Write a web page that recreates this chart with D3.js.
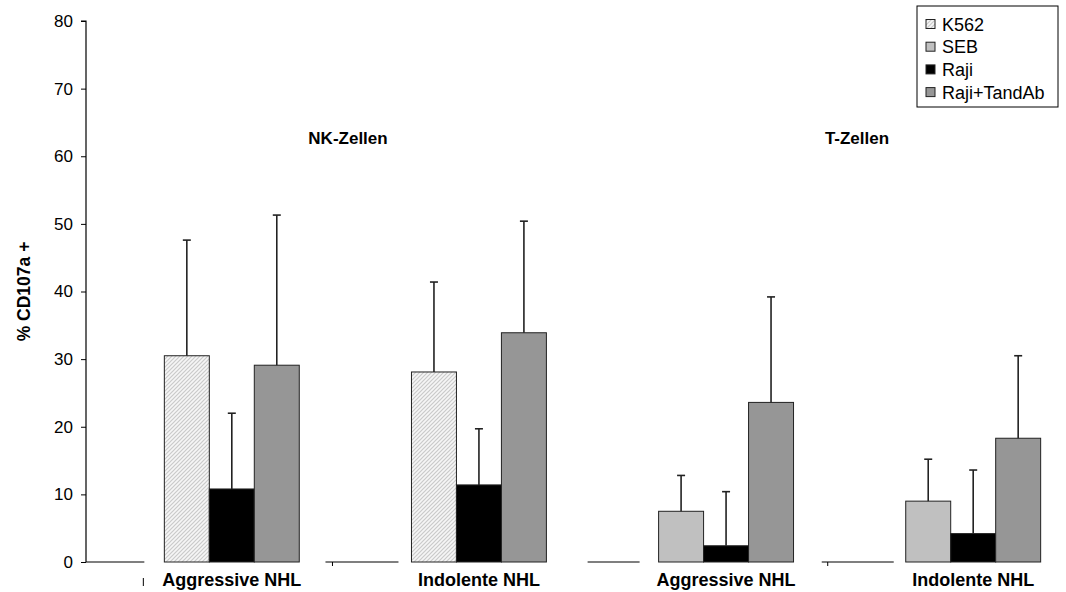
<!DOCTYPE html>
<html><head><meta charset="utf-8">
<script src="https://cdn.jsdelivr.net/npm/d3@7"></script>
<style>
html,body{margin:0;padding:0;background:#fff;}
svg{display:block;font-family:"Liberation Sans",Arial,sans-serif;}
</style></head>
<body><svg id="chart" width="1066" height="592"></svg>
<script>
// ---- data ----
const groups = ["NK-Aggressive", "NK-Indolente", "T-Aggressive", "T-Indolente"];
const groupLabels = ["Aggressive NHL", "Indolente NHL", "Aggressive NHL", "Indolente NHL"];
const panelTitles = ["NK-Zellen", "T-Zellen"];
const seriesNames = ["K562", "SEB", "Raji", "Raji+TandAb"];
// per-group first bar series (K562 for NK cells, SEB for T cells)
const firstSeries = ["K562", "K562", "SEB", "SEB"];
const stimValues = [30.5, 28.1, 7.5, 9.0];
const stimErrTop = [47.6, 41.4, 12.8, 15.2];
const rajiValues = [10.8, 11.4, 2.4, 4.2];
const rajiErrTop = [22.0, 19.7, 10.4, 13.6];
const tandValues = [29.1, 33.9, 23.6, 18.3];
const tandErrTop = [51.3, 50.4, 39.2, 30.5];
const yTicks = [0, 10, 20, 30, 40, 50, 60, 70, 80];
const yLabel = "% CD107a +";

// ---- layout ----
const svg = d3.select("#chart");
const y = d3.scaleLinear().domain([0, 80]).range([562, 21]);
const axisX = 86;
const xg = d3.scaleBand().domain(groups).range([86, 1119]).paddingInner(0.454).paddingOuter(0.317);
const slots = ["a", "b", "c"];
const xs = d3.scaleBand().domain(slots).range([0, xg.bandwidth()]);

const colors = {"K562": "url(#hatch)", "SEB": "#c0c0c0", "Raji": "#000000", "Raji+TandAb": "#969696"};

// hatch pattern
const defs = svg.append("defs");
const pat = defs.append("pattern").attr("id", "hatch").attr("patternUnits", "userSpaceOnUse")
  .attr("width", 4).attr("height", 4);
pat.append("rect").attr("width", 4).attr("height", 4).attr("fill", "#f6f6f6");
pat.append("path").attr("d", "M-1,1 l2,-2 M0,4 l4,-4 M3,5 l2,-2")
  .attr("stroke", "#cacaca").attr("stroke-width", 1.2);

// bars data
const bars = [];
groups.forEach((g, i) => {
  bars.push({g, slot: "a", s: firstSeries[i], v: stimValues[i], e: stimErrTop[i]});
  bars.push({g, slot: "b", s: "Raji", v: rajiValues[i], e: rajiErrTop[i]});
  bars.push({g, slot: "c", s: "Raji+TandAb", v: tandValues[i], e: tandErrTop[i]});
});

// baseline segments (visible pieces of the category axis between groups)
const segOffsets = [[-78, -20], [-86, -13], [-71, -19], [-84, -12]];
const baseG = svg.append("g");
groups.forEach((g, i) => {
  const x0 = xg(g);
  baseG.append("line")
    .attr("x1", i === 0 ? axisX : x0 + segOffsets[i][0]).attr("x2", x0 + segOffsets[i][1])
    .attr("y1", y(0)).attr("y2", y(0))
    .attr("stroke", "#000").attr("stroke-width", 1.2);
});
// small tick remnants
[[1, 7], [3, 6]].forEach(([i, dx]) => {
  const x0 = xg(groups[i]) + segOffsets[i][0] + dx;
  baseG.append("line").attr("x1", x0).attr("x2", x0).attr("y1", y(0)).attr("y2", y(0) + 4)
    .attr("stroke", "#000").attr("stroke-width", 1);
});
[xg(groups[0]) - 21].forEach(x0 => {
  baseG.append("line").attr("x1", x0).attr("x2", x0).attr("y1", 578).attr("y2", 586)
    .attr("stroke", "#000").attr("stroke-width", 1);
});

// bars
svg.append("g").selectAll("rect").data(bars).join("rect")
  .attr("x", d => xg(d.g) + xs(d.slot))
  .attr("y", d => y(d.v))
  .attr("width", xs.bandwidth())
  .attr("height", d => y(0) - y(d.v))
  .attr("fill", d => colors[d.s])
  .attr("stroke", "#222").attr("stroke-width", 1);

// error bars (upper only)
const eg = svg.append("g").attr("stroke", "#222").attr("stroke-width", 1.6);
bars.forEach(d => {
  const cx = xg(d.g) + xs(d.slot) + xs.bandwidth() / 2;
  eg.append("line").attr("x1", cx).attr("x2", cx).attr("y1", y(d.v)).attr("y2", y(d.e));
  eg.append("line").attr("x1", cx - 4).attr("x2", cx + 4).attr("y1", y(d.e)).attr("y2", y(d.e));
});

// y axis
const yAxis = d3.axisLeft(y).tickValues(yTicks).tickSize(5).tickPadding(8);
const ya = svg.append("g").attr("transform", `translate(${axisX},0)`).call(yAxis);
ya.select(".domain").attr("stroke", "#000").attr("stroke-width", 1.2).attr("d", `M-5,${y(80)}H0V${y(0)}`);
ya.selectAll(".tick line").attr("stroke", "#000");
ya.selectAll(".tick text").attr("font-size", 17).attr("fill", "#000")
  .attr("font-family", "Liberation Sans, Arial, sans-serif");

// y label
svg.append("text").attr("transform", `translate(30,${y(40)}) rotate(-90)`)
  .attr("text-anchor", "middle").attr("font-size", 17.5).attr("font-weight", "bold")
  .text(yLabel);

// group labels
svg.append("g").selectAll("text").data(groups).join("text")
  .attr("x", g => xg(g) + xg.bandwidth() / 2)
  .attr("y", 586)
  .attr("text-anchor", "middle").attr("font-size", 18).attr("font-weight", "bold")
  .text((g, i) => groupLabels[i]);

// panel titles
const titleX = [348, 857];
panelTitles.forEach((t, i) => {
  svg.append("text").attr("x", titleX[i]).attr("y", 144)
    .attr("text-anchor", "middle").attr("font-size", 17).attr("font-weight", "bold").text(t);
});

// legend
const lg = svg.append("g").attr("transform", "translate(917,6)");
lg.append("rect").attr("width", 141).attr("height", 101).attr("fill", "#fff")
  .attr("stroke", "#000").attr("stroke-width", 1);
seriesNames.forEach((s, i) => {
  const cy = 18 + i * 22.7;
  lg.append("rect").attr("x", 9).attr("y", cy - 4.5).attr("width", 9).attr("height", 9)
    .attr("fill", colors[s]).attr("stroke", "#222").attr("stroke-width", 1);
  lg.append("text").attr("x", 25).attr("y", cy + 6.5).attr("font-size", 18).text(s);
});
</script>
</body></html>
